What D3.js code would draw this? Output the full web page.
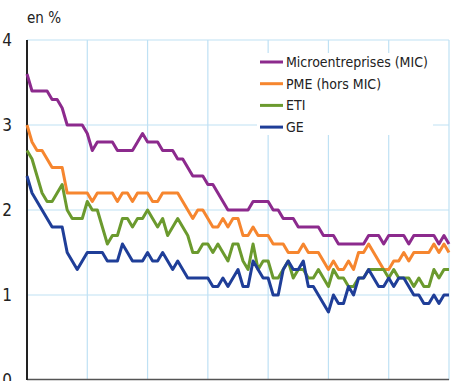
<!DOCTYPE html>
<html>
<head>
<meta charset="utf-8">
<script src="https://cdn.jsdelivr.net/npm/d3@7"></script>
<style>
  body { margin: 0; background: #fff; }
  svg { display: block; font-family: "Liberation Sans Narrow", "Arial Narrow", "DejaVu Sans Condensed", sans-serif; }
</style>
</head>
<body>
<svg class="mainSvg"></svg>
<script>
// monthly rates, 7 years + 1 month
const yTicks = [0, 1, 2, 3, 4];
const yearStarts = [0, 12, 24, 36, 48, 60, 72, 84];

const mic = [3.6, 3.4, 3.4, 3.4, 3.4, 3.3, 3.3, 3.2, 3.0, 3.0, 3.0, 3.0, 2.9, 2.7, 2.8, 2.8, 2.8, 2.8, 2.7, 2.7,
  2.7, 2.7, 2.8, 2.9, 2.8, 2.8, 2.8, 2.7, 2.7, 2.7, 2.6, 2.6, 2.5, 2.4, 2.4, 2.4, 2.3, 2.3, 2.2, 2.1,
  2.0, 2.0, 2.0, 2.0, 2.0, 2.1, 2.1, 2.1, 2.1, 2.0, 2.0, 1.9, 1.9, 1.9, 1.8, 1.8, 1.8, 1.8, 1.8, 1.7,
  1.7, 1.7, 1.6, 1.6, 1.6, 1.6, 1.6, 1.6, 1.7, 1.7, 1.7, 1.6, 1.7, 1.7, 1.7, 1.7, 1.6, 1.7, 1.7, 1.7,
  1.7, 1.7, 1.6, 1.7, 1.6];

const pme = [3.0, 2.8, 2.7, 2.7, 2.6, 2.5, 2.5, 2.5, 2.2, 2.2, 2.2, 2.2, 2.2, 2.1, 2.2, 2.2, 2.2, 2.2, 2.1, 2.2,
  2.2, 2.1, 2.2, 2.2, 2.2, 2.1, 2.1, 2.2, 2.2, 2.2, 2.2, 2.1, 2.0, 1.9, 2.0, 2.0, 1.9, 1.8, 1.8, 1.9,
  1.8, 1.9, 1.9, 1.7, 1.7, 1.8, 1.7, 1.7, 1.7, 1.6, 1.6, 1.6, 1.5, 1.5, 1.5, 1.6, 1.5, 1.5, 1.5, 1.4,
  1.3, 1.4, 1.3, 1.3, 1.4, 1.3, 1.5, 1.5, 1.6, 1.5, 1.4, 1.3, 1.3, 1.4, 1.4, 1.5, 1.4, 1.5, 1.5, 1.5,
  1.5, 1.6, 1.5, 1.6, 1.5];

const eti = [2.7, 2.6, 2.4, 2.2, 2.1, 2.1, 2.2, 2.3, 2.0, 1.9, 1.9, 1.9, 2.1, 2.0, 2.0, 1.8, 1.6, 1.7, 1.7, 1.9,
  1.9, 1.8, 1.9, 1.9, 2.0, 1.9, 1.8, 1.9, 1.7, 1.8, 1.9, 1.8, 1.7, 1.5, 1.5, 1.6, 1.6, 1.5, 1.6, 1.5,
  1.4, 1.6, 1.6, 1.4, 1.3, 1.6, 1.3, 1.4, 1.4, 1.2, 1.2, 1.3, 1.4, 1.2, 1.3, 1.3, 1.2, 1.2, 1.3, 1.2,
  1.1, 1.3, 1.2, 1.2, 1.1, 1.1, 1.2, 1.2, 1.3, 1.3, 1.3, 1.3, 1.2, 1.3, 1.2, 1.2, 1.2, 1.1, 1.2, 1.1,
  1.1, 1.3, 1.2, 1.3, 1.3];

const ge = [2.4, 2.2, 2.1, 2.0, 1.9, 1.8, 1.8, 1.8, 1.5, 1.4, 1.3, 1.4, 1.5, 1.5, 1.5, 1.5, 1.4, 1.4, 1.4, 1.6,
  1.5, 1.4, 1.4, 1.4, 1.5, 1.4, 1.4, 1.5, 1.4, 1.3, 1.4, 1.3, 1.2, 1.2, 1.2, 1.2, 1.2, 1.1, 1.1, 1.2,
  1.1, 1.2, 1.3, 1.1, 1.1, 1.4, 1.3, 1.2, 1.2, 1.0, 1.0, 1.3, 1.4, 1.3, 1.3, 1.4, 1.1, 1.1, 1.0, 0.9,
  0.8, 1.0, 0.9, 0.9, 1.1, 1.0, 1.2, 1.2, 1.3, 1.2, 1.1, 1.1, 1.2, 1.1, 1.2, 1.2, 1.1, 1.0, 1.0, 0.9,
  0.9, 1.0, 0.9, 1.0, 1.0];

const seriesNames = ["Microentreprises (MIC)", "PME (hors MIC)", "ETI", "GE"];
const seriesColors = ["#8c2a8d", "#f6862f", "#6b9a2e", "#1f3e98"];
const seriesValues = [mic, pme, eti, ge];

let width = 469;
let height = 381;
let margin = {top: 40, right: 20, bottom: 1, left: 27};

let svg = d3.select('.mainSvg')
            .attr('width', width)
            .attr('height', height);

let x = d3.scaleLinear()
          .domain([0, mic.length - 1])
          .range([margin.left, width - margin.right]);

let y = d3.scaleLinear()
          .domain([0, 4])
          .range([height - margin.bottom, margin.top]);

// grid
svg.append('g')
  .selectAll('line')
  .data(yTicks.filter(d => d > 0))
  .enter().append('line')
  .attr('x1', x(0)).attr('x2', x(mic.length - 1))
  .attr('y1', d => y(d)).attr('y2', d => y(d))
  .attr('stroke', '#bfe1f4').attr('stroke-width', 1.2);

svg.append('g')
  .selectAll('line')
  .data(yearStarts.slice(1))
  .enter().append('line')
  .attr('x1', d => x(d)).attr('x2', d => x(d))
  .attr('y1', y(4)).attr('y2', y(0))
  .attr('stroke', '#bfe1f4').attr('stroke-width', 1.2);

// axes lines
svg.append('line')
  .attr('x1', x(0)).attr('x2', x(mic.length - 1))
  .attr('y1', y(0) - 0.5).attr('y2', y(0) - 0.5)
  .attr('stroke', '#555').attr('stroke-width', 1.5);

svg.append('line')
  .attr('x1', x(0)).attr('x2', x(0))
  .attr('y1', y(4)).attr('y2', y(0))
  .attr('stroke', '#222').attr('stroke-width', 2);

// y tick labels
svg.append('g')
  .selectAll('text')
  .data(yTicks)
  .enter().append('text')
  .attr('x', 7)
  .attr('y', d => y(d) + 6)
  .attr('text-anchor', 'middle')
  .attr('font-size', 17)
  .attr('fill', '#222')
  .text(d => d);

svg.append('text')
  .attr('x', 27)
  .attr('y', 23)
  .attr('font-size', 15)
  .attr('fill', '#222')
  .text('en %');

// legend box
svg.append('rect')
  .attr('x', 257).attr('y', 53)
  .attr('width', 176).attr('height', 82)
  .attr('fill', '#fff');

// lines
let line = d3.line()
             .x((d, i) => x(i))
             .y(d => y(d));

svg.append('g')
  .selectAll('path')
  .data(seriesValues)
  .enter().append('path')
  .attr('d', d => line(d))
  .attr('fill', 'none')
  .attr('stroke', (d, i) => seriesColors[i])
  .attr('stroke-width', 3)
  .attr('stroke-linejoin', 'round');

let legendElem = svg.append('g')
  .selectAll('g')
  .data(seriesNames)
  .enter().append('g')
  .attr('transform', (d, i) => 'translate(260,' + (62 + i * 21.7) + ')');

legendElem.append('line')
  .attr('x1', 0).attr('x2', 23)
  .attr('stroke', (d, i) => seriesColors[i])
  .attr('stroke-width', 3);

legendElem.append('text')
  .attr('x', 26)
  .attr('y', 5)
  .attr('font-size', 14)
  .attr('fill', '#222')
  .text(d => d);
</script>
</body>
</html>
